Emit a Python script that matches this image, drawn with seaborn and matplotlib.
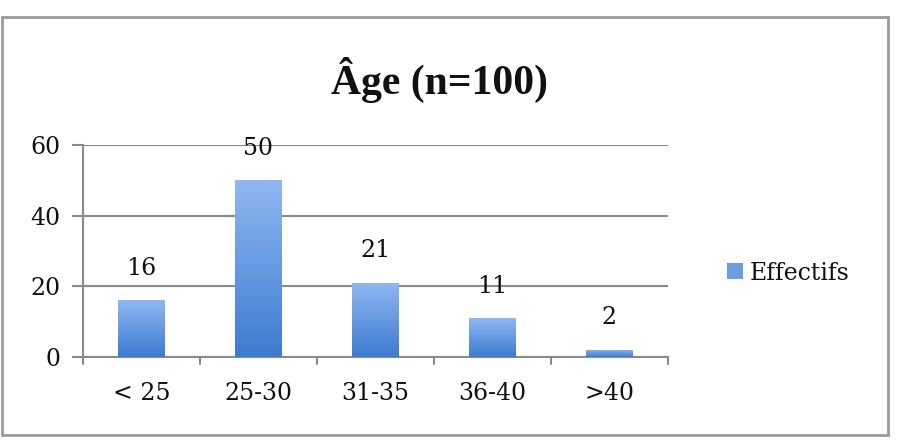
import numpy as np
import pandas as pd
import matplotlib
matplotlib.use("Agg")
import matplotlib.pyplot as plt
import seaborn as sns
from matplotlib.patches import Rectangle
from matplotlib.colors import LinearSegmentedColormap

categories = ["< 25", "25-30", "31-35", "36-40", ">40"]
values = [16, 50, 21, 11, 2]
series_name = "Effectifs"
title = "Âge (n=100)"
yticks = [0, 20, 40, 60]

sns.set_theme(style="white")
plt.rcParams['font.family'] = ['DejaVu Serif', 'Liberation Serif']

W, H = 903, 444
fig = plt.figure(figsize=(W / 100, H / 100), dpi=100)
ax = fig.add_axes([83 / W, 1 - 357 / H, 585 / W, (357 - 145) / H])

df = pd.DataFrame({"cat": categories, "val": values})
sns.barplot(data=df, x="cat", y="val", ax=ax, width=0.4, color="#5b93dc",
            edgecolor="none", zorder=3)

cmap = LinearSegmentedColormap.from_list("g", ["#3d7bd0", "#8fb8f2"])
grad = np.linspace(0, 1, 256).reshape(-1, 1)
for p in ax.patches:
    x0, y0 = p.get_x(), p.get_y()
    w, h = p.get_width(), p.get_height()
    im = ax.imshow(grad, cmap=cmap, aspect="auto", origin="lower",
                   extent=[x0, x0 + w, y0, y0 + h], zorder=4)
    im.set_clip_path(p)
    ax.annotate(f"{int(h)}", (x0 + w / 2, h), xytext=(0, 23),
                textcoords="offset points", ha="center", va="center",
                fontsize=17, color="#111111")

ax.set_xlim(-0.5, len(categories) - 0.5)
ax.set_ylim(0, 60)
ax.set_yticks(yticks)
ax.set_xlabel("")
ax.set_ylabel("")
ax.grid(axis="y", color="#8a8a8a", linewidth=1.5, zorder=0)
ax.set_axisbelow(True)
for s in ["top", "right"]:
    ax.spines[s].set_visible(False)
for s in ["left", "bottom"]:
    ax.spines[s].set_color("#8a8a8a")
    ax.spines[s].set_linewidth(1.5)
ax.tick_params(axis="y", left=True, length=8, width=1.5, color="#8a8a8a",
               labelsize=17, pad=8, labelcolor="#111111")
ax.tick_params(axis="x", bottom=False, labelsize=17, pad=12,
               labelcolor="#111111")
ax.set_xticks(range(len(categories)))
ax.set_xticklabels(categories)
for xb in np.arange(-0.5, len(categories), 1.0):
    ax.plot([xb, xb], [0, -0.035], transform=ax.get_xaxis_transform(),
            color="#8a8a8a", lw=1.5, clip_on=False)

fig.text(440 / W, 1 - 80 / H, title, ha="center", va="center",
         fontsize=30, fontweight="bold", family=['Liberation Serif'],
         color="#111111")

handle = Rectangle((0, 0), 1, 1, facecolor="#6a9de0", edgecolor="none")
fig.legend([handle], [series_name], loc="center left",
           bbox_to_anchor=(706 / W, 1 - 273 / H), frameon=False,
           fontsize=17, handlelength=0.65, handleheight=0.65,
           handletextpad=0.3, labelcolor="#111111")

border = Rectangle((2 / W, 1 - 435 / H), 886 / W, 418 / H,
                   transform=fig.transFigure, fill=False,
                   edgecolor="#9a9a9a", linewidth=2)
fig.patches.append(border)

fig.savefig("out.png", dpi=100)
